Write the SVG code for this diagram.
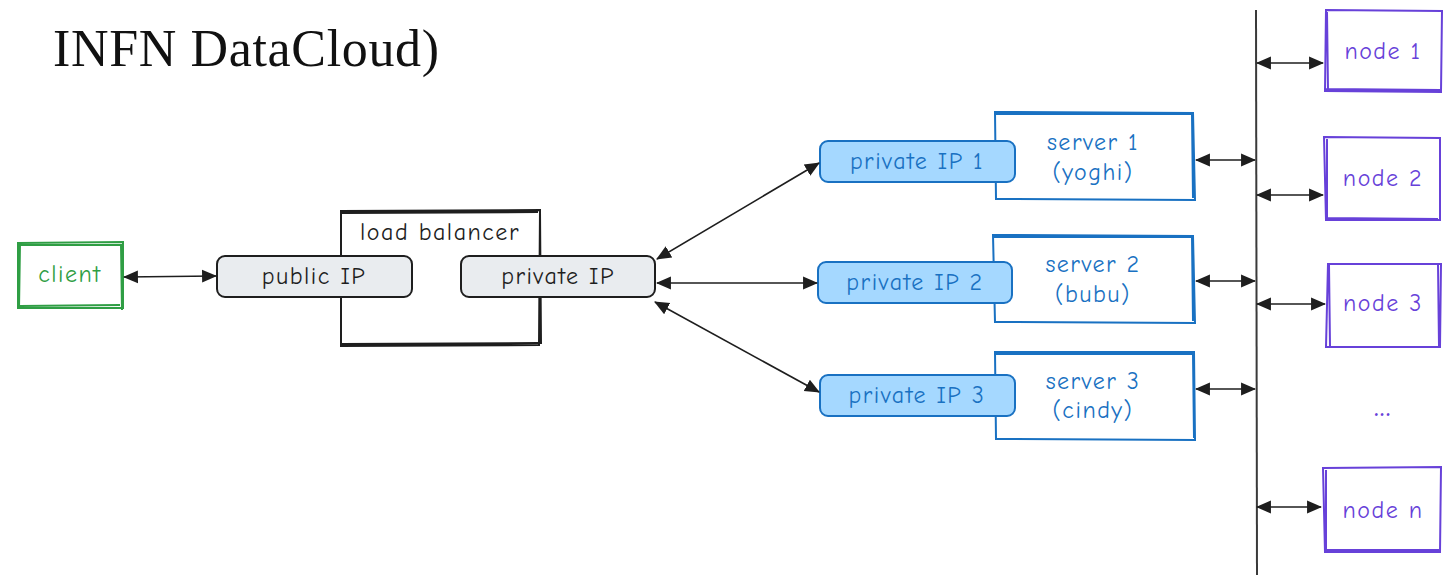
<svg xmlns="http://www.w3.org/2000/svg" width="1455" height="575" viewBox="0 0 1455 575">
<defs>
<marker id="ah" viewBox="0 0 14 14" refX="13" refY="7" markerWidth="15" markerHeight="15" markerUnits="userSpaceOnUse" orient="auto-start-reverse">
<path d="M0,1 L14,7 L0,13 Z" fill="#1e1e1e"/>
</marker>
<style>
.lbl{font-family:"Comic Neue","Open Sans","Liberation Sans",sans-serif;font-size:24px;letter-spacing:1.5px;text-anchor:middle;dominant-baseline:central}
.green{fill:none;stroke:#2f9e44;stroke-width:2}
.blue{fill:#fff;stroke:#1971c2;stroke-width:2}
.bluefill{fill:#a5d8ff;stroke:#1971c2;stroke-width:2}
.gray{fill:#e9ecef;stroke:#1e1e1e;stroke-width:2}
.black{fill:none;stroke:#1e1e1e;stroke-width:2}
.purple{fill:#fff;stroke:#6741d9;stroke-width:2}
.conn{fill:none;stroke:#1e1e1e;stroke-width:1.6;marker-start:url(#ah);marker-end:url(#ah)}
</style>
</defs>
<rect width="1455" height="575" fill="#fff"/>
<text x="53" y="66" font-family="Liberation Serif,serif" font-size="52" fill="#111" textLength="386">INFN DataCloud)</text>

<g id="lb">
<path class="black" d="M341,211 L540,210 L539,345 L341,346 Z M342,213 L538,212 M540,212 L541,344 M342,344 L538,343"/>
<text class="lbl" x="440" y="232" fill="#1e1e1e">load balancer</text>
</g>
<g id="client">
<path class="green" d="M18,243 L123,242 L123,308 L18,308 Z M17,245 L122,245 M20,243 L19,309 M121,244 L122,310 M20,306 L120,305"/>
<text class="lbl" x="70" y="274" fill="#2f9e44">client</text>
</g>
<g id="public-ip">
<rect class="gray" x="217" y="256" width="195" height="41" rx="8"/>
<text class="lbl" x="314" y="276" fill="#1e1e1e">public IP</text>
</g>
<g id="private-ip-lb">
<rect class="gray" x="461" y="256" width="194" height="41" rx="8"/>
<text class="lbl" x="558" y="276" fill="#1e1e1e">private IP</text>
</g>

<g id="server1">
<path class="blue" d="M995,112 L1193,113 L1195,200 L996,199 Z M994,114 L1192,114 M1192,115 L1193,198"/>
<text class="lbl" x="1093" y="142" fill="#1971c2">server 1</text>
<text class="lbl" x="1093" y="172" fill="#1971c2">(yoghi)</text>
</g>
<g id="private-ip-1">
<rect class="bluefill" x="820" y="141" width="195" height="41" rx="8"/>
<text class="lbl" x="917" y="161" fill="#1971c2">private IP 1</text>
</g>
<g id="server2">
<path class="blue" d="M993,235 L1193,236 L1195,323 L995,322 Z M994,237 L1192,237 M1192,237 L1193,321"/>
<text class="lbl" x="1093" y="264" fill="#1971c2">server 2</text>
<text class="lbl" x="1093" y="294" fill="#1971c2">(bubu)</text>
</g>
<g id="private-ip-2">
<rect class="bluefill" x="818" y="262" width="194" height="41" rx="8"/>
<text class="lbl" x="915" y="282" fill="#1971c2">private IP 2</text>
</g>
<g id="server3">
<path class="blue" d="M995,352 L1194,352 L1195,440 L996,439 Z M994,354 L1193,354 M1193,354 L1194,438"/>
<text class="lbl" x="1093" y="381" fill="#1971c2">server 3</text>
<text class="lbl" x="1093" y="410" fill="#1971c2">(cindy)</text>
</g>
<g id="private-ip-3">
<rect class="bluefill" x="820" y="375" width="195" height="41" rx="8"/>
<text class="lbl" x="917" y="395" fill="#1971c2">private IP 3</text>
</g>

<g id="node1">
<path class="purple" d="M1326,10 L1442,11 L1441,92 L1325,91 Z M1327,12 L1328,90 M1326,89 L1440,90"/>
<text class="lbl" x="1383" y="51" fill="#6741d9">node 1</text>
</g>
<g id="node2">
<path class="purple" d="M1324,137 L1440,138 L1440,220 L1326,220 Z M1327,139 L1327,219 M1325,218 L1438,219"/>
<text class="lbl" x="1383" y="178" fill="#6741d9">node 2</text>
</g>
<g id="node3">
<path class="purple" d="M1328,264 L1441,264 L1440,347 L1326,347 Z M1329,265 L1330,346 M1438,264 L1439,346"/>
<text class="lbl" x="1383" y="303" fill="#6741d9">node 3</text>
</g>
<g id="dots">
<text class="lbl" x="1383" y="408" fill="#6741d9" font-weight="bold">...</text>
</g>
<g id="noden">
<path class="purple" d="M1323,468 L1441,467 L1440,552 L1325,552 Z M1326,470 L1326,551 M1324,550 L1439,550"/>
<text class="lbl" x="1383" y="510" fill="#6741d9">node n</text>
</g>

<g id="connectors">
<line x1="1256" y1="10" x2="1257" y2="575" stroke="#3a3a3a" stroke-width="2"/>
<path class="conn" d="M124,277 L216,276"/>
<path class="conn" d="M657,259 L819,163"/>
<path class="conn" d="M657,283 L817,283"/>
<path class="conn" d="M655,302 L819,392"/>
<path class="conn" d="M1196,160 L1255,160"/>
<path class="conn" d="M1196,281 L1255,281"/>
<path class="conn" d="M1196,389 L1255,389"/>
<path class="conn" d="M1257,63 L1323,63"/>
<path class="conn" d="M1257,195 L1323,195"/>
<path class="conn" d="M1257,304 L1325,304"/>
<path class="conn" d="M1257,507 L1321,507"/>
</g>
</svg>
